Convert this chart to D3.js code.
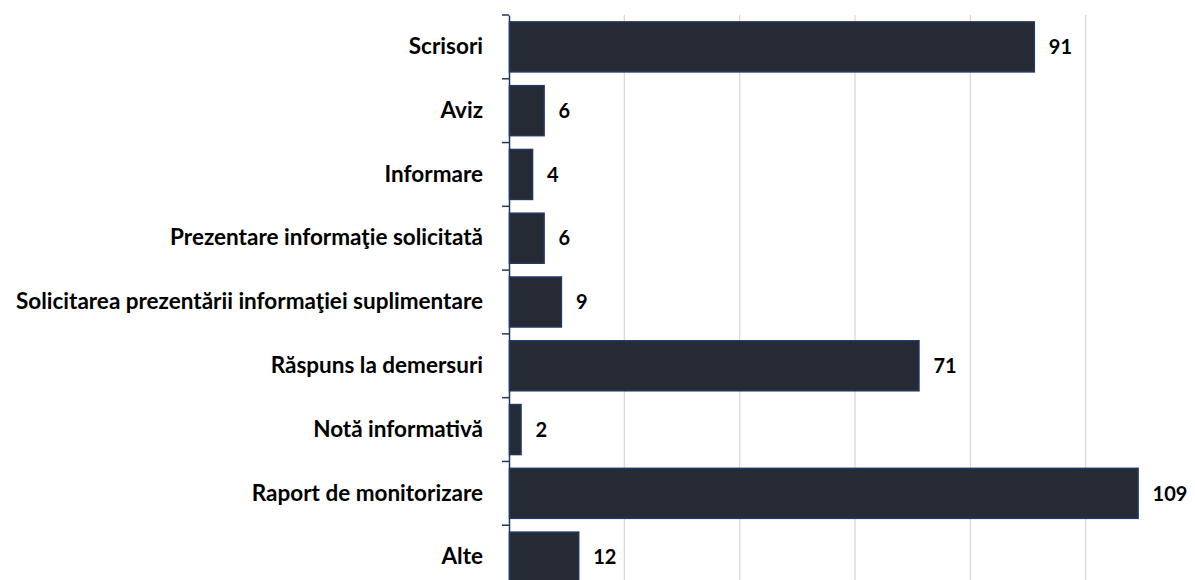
<!DOCTYPE html>
<html>
<head>
<meta charset="utf-8">
<script src="https://cdn.jsdelivr.net/npm/d3@7"></script>
<style>
  body { margin: 0; background: #fff; }
  svg { display: block; }
</style>
</head>
<body>
<svg id="chart"></svg>
<script>
const categories = [
  "Scrisori",
  "Aviz",
  "Informare",
  "Prezentare informaţie solicitată",
  "Solicitarea prezentării informaţiei suplimentare",
  "Răspuns la demersuri",
  "Notă informativă",
  "Raport de monitorizare",
  "Alte"
];
const values = [91, 6, 4, 6, 9, 71, 2, 109, 12];
const gridTicks = [20, 40, 60, 80, 100];

const width = 1195, height = 580;
const x0 = 509;

const svg = d3.select("#chart")
  .attr("width", width)
  .attr("height", height);

const x = d3.scaleLinear()
  .domain([0, 100])
  .range([x0, 1085.7]);

const y = d3.scaleBand()
  .domain(categories)
  .range([15, 589])
  .paddingInner(0.216)
  .paddingOuter(0.108);

// gridlines
svg.append("g")
  .selectAll("line")
  .data(gridTicks)
  .join("line")
    .attr("x1", d => x(d))
    .attr("x2", d => x(d))
    .attr("y1", 15)
    .attr("y2", height)
    .attr("stroke", "#d9d9d9")
    .attr("stroke-width", 1.3);

// bars
svg.append("g")
  .selectAll("rect")
  .data(values)
  .join("rect")
    .attr("x", x(0) + 0.5)
    .attr("y", (d, i) => y(categories[i]))
    .attr("width", d => x(d) - x(0))
    .attr("height", y.bandwidth())
    .attr("fill", "#252a35")
    .attr("stroke", "#1f3864")
    .attr("stroke-width", 1.5);

// value labels
svg.append("g")
  .attr("font-family", "Lato, 'Open Sans', sans-serif")
  .attr("font-weight", "bold")
  .attr("font-size", 20)
  .attr("fill", "#000")
  .selectAll("text")
  .data(values)
  .join("text")
    .attr("x", d => x(d) + 15)
    .attr("y", (d, i) => y(categories[i]) + y.bandwidth() / 2)
    .attr("dy", "0.36em")
    .text(d => d);

// y axis
const yAxis = d3.axisLeft(y).tickSize(0).tickPadding(26);
const gy = svg.append("g")
  .attr("transform", `translate(${x0},0)`)
  .call(yAxis);
gy.select(".domain").attr("stroke", "#1f3864").attr("stroke-width", 1.5);
gy.selectAll("text")
  .attr("font-family", "Lato, 'Open Sans', sans-serif")
  .attr("font-weight", "bold")
  .attr("font-size", 22.5)
  .attr("fill", "#000");

// category separator ticks
const step = y.step();
const boundaries = d3.range(categories.length + 1).map(i => 15 + i * step);
svg.append("g")
  .selectAll("line")
  .data(boundaries)
  .join("line")
    .attr("x1", x0 - 7)
    .attr("x2", x0)
    .attr("y1", d => d)
    .attr("y2", d => d)
    .attr("stroke", "#1f3864")
    .attr("stroke-width", 1.5);
</script>
</body>
</html>
